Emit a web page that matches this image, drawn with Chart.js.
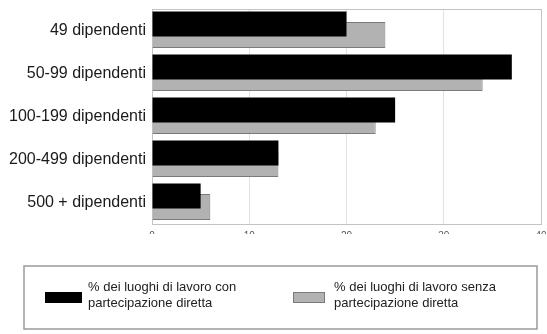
<!DOCTYPE html>
<html>
<head>
<meta charset="utf-8">
<script src="https://cdn.jsdelivr.net/npm/chart.js@4/dist/chart.umd.min.js"></script>
<style>
  html, body { margin: 0; padding: 0; background: #fff; }
  #wrap { width: 547px; height: 334px; }
</style>
</head>
<body>
<div id="wrap"><canvas id="c" width="547" height="334"></canvas></div>
<script>
// Workplace size classes
const categories = ['49 dipendenti', '50-99 dipendenti', '100-199 dipendenti', '200-499 dipendenti', '500 + dipendenti'];
// % of workplaces with direct participation
const withParticipation = [20, 37, 25, 13, 5];
// % of workplaces without direct participation
const withoutParticipation = [24, 34, 23, 13, 6];
const xTicks = [0, 10, 20, 30, 40];
const seriesLabels = [
  ['% dei luoghi di lavoro con', 'partecipazione diretta'],
  ['% dei luoghi di lavoro senza', 'partecipazione diretta']
];

const FONT = '"Liberation Sans", Arial, sans-serif';

// Light frame around the plotting area
const framePlugin = {
  id: 'frame',
  beforeDatasetsDraw(chart) {
    const { ctx, chartArea: a } = chart;
    ctx.save();
    ctx.strokeStyle = '#c4c4c4';
    ctx.lineWidth = 1;
    ctx.strokeRect(Math.round(a.left) + 0.5, Math.round(a.top) + 0.5,
                   Math.round(a.right - a.left), Math.round(a.bottom - a.top));
    ctx.restore();
  }
};

// Boxed legend with two-line labels below the chart
const boxLegend = {
  id: 'boxLegend',
  afterDraw(chart) {
    const ctx = chart.ctx;
    ctx.save();
    ctx.strokeStyle = '#9a9a9a';
    ctx.lineWidth = 1.5;
    ctx.strokeRect(24, 266, 513, 63);
    const items = [
      { sx: 45, sw: 37, tx: 88 },
      { sx: 293, sw: 32, tx: 334 }
    ];
    chart.data.datasets.forEach((ds, i) => {
      const it = items[i];
      ctx.fillStyle = ds.backgroundColor;
      ctx.fillRect(it.sx, 292, it.sw, 11);
      ctx.strokeStyle = ds.borderColor;
      ctx.lineWidth = 1;
      ctx.strokeRect(it.sx + 0.5, 292.5, it.sw - 1, 10);
      ctx.fillStyle = '#222';
      ctx.font = '13px ' + FONT;
      ctx.textBaseline = 'middle';
      ctx.textAlign = 'left';
      seriesLabels[i].forEach((line, j) => ctx.fillText(line, it.tx, 287 + j * 16));
    });
    ctx.restore();
  }
};

// Keep tick-label overhang from shifting the plotting area
function noLabelPadding(scale) {
  scale.paddingTop = 0;
  scale.paddingBottom = 0;
  scale.paddingLeft = 0;
  scale.paddingRight = 0;
}

new Chart(document.getElementById('c'), {
  type: 'bar',
  data: {
    labels: categories,
    datasets: [
      {
        label: seriesLabels[0].join(' '),
        data: withParticipation,
        backgroundColor: '#000000',
        borderColor: '#000000',
        borderWidth: 0,
        barPercentage: 1.92,
        categoryPercentage: 0.605
      },
      {
        label: seriesLabels[1].join(' '),
        data: withoutParticipation,
        backgroundColor: '#b2b2b2',
        borderColor: '#7a7a7a',
        borderWidth: 1,
        barPercentage: 2.89,
        categoryPercentage: 0.419
      }
    ]
  },
  options: {
    indexAxis: 'y',
    responsive: false,
    animation: false,
    layout: { padding: { left: 0, top: 9, right: 6, bottom: 100 } },
    plugins: {
      legend: { display: false },
      tooltip: { enabled: false }
    },
    scales: {
      x: {
        min: 0,
        max: 40,
        afterBuildTicks(scale) { scale.ticks = xTicks.map(v => ({ value: v })); },
        afterFit(scale) { scale.height = 10; noLabelPadding(scale); },
        grid: { color: '#e2e2e2', drawTicks: false },
        border: { display: false },
        ticks: {
          padding: 6,
          color: '#555',
          font: { family: FONT, size: 10 }
        }
      },
      y: {
        afterFit(scale) { scale.width = 152; noLabelPadding(scale); },
        grid: { display: false, drawTicks: false },
        border: { display: false },
        ticks: {
          padding: 6,
          color: '#1a1a1a',
          font: { family: FONT, size: 16 }
        }
      }
    }
  },
  plugins: [framePlugin, boxLegend]
});
</script>
</body>
</html>
